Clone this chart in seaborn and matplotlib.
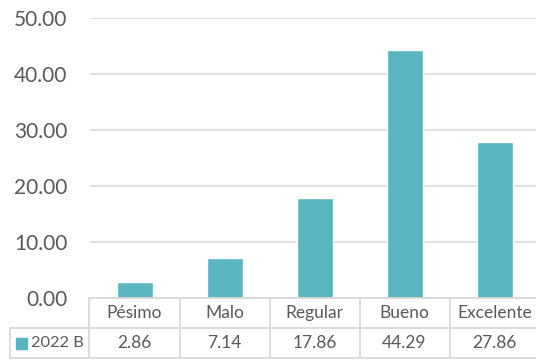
import matplotlib
matplotlib.use("Agg")
import matplotlib.pyplot as plt
import matplotlib.transforms as mtransforms
from matplotlib.patches import Rectangle
import seaborn as sns
import pandas as pd

categories = ["Pésimo", "Malo", "Regular", "Bueno", "Excelente"]
values = [2.86, 7.14, 17.86, 44.29, 27.86]
series_name = "2022 B"
y_ticks = [0, 10, 20, 30, 40, 50]

bar_color = "#59B5BF"
text_color = "#595959"
line_color = "#D9D9D9"

sns.set_style("white")
plt.rcParams["font.family"] = ["Lato", "DejaVu Sans"]

W, H = 536, 360
fig = plt.figure(figsize=(W / 100, H / 100), dpi=100)
ax_left, ax_bottom, ax_w, ax_h = 89.5, 62.0, 450.0, 279.7
ax = fig.add_axes([ax_left / W, ax_bottom / H, ax_w / W, ax_h / H])

df = pd.DataFrame({"categoria": categories, "valor": values})
sns.barplot(data=df, x="categoria", y="valor", color=bar_color,
            width=0.4, saturation=1, ax=ax, zorder=3)

ax.set_xlim(-0.5, len(categories) - 0.5)
ax.set_ylim(0, 50)
ax.set_yticks(y_ticks)
ax.set_yticklabels([f"{v:.2f}" for v in y_ticks])
ax.tick_params(axis="y", length=0, pad=16, labelsize=15, labelcolor=text_color)
ax.set_xticks([])
ax.set_xlabel("")
ax.set_ylabel("")
ax.grid(axis="y", color=line_color, linewidth=1.1, zorder=0)
ax.set_axisbelow(True)
for s in ax.spines.values():
    s.set_visible(False)

# Data table under the plot: x in category units, y in pixels below the axes
px = 1.0 / ax_h
trans = mtransforms.blended_transform_factory(ax.transData, ax.transAxes)
row1_top, row1_bot, row2_bot = 0.0, -30 * px, -60 * px
x_left_data = -0.5 - (ax_left - 10) / (ax_w / len(categories))
x_min, x_max = -0.5, len(categories) - 0.5

lk = dict(color=line_color, linewidth=1.3, clip_on=False, transform=trans, zorder=5)
ax.plot([x_min, x_max], [row1_top, row1_top], **lk)
ax.plot([x_left_data, x_max], [row1_bot, row1_bot], **lk)
ax.plot([x_left_data, x_max], [row2_bot, row2_bot], **lk)
ax.plot([x_left_data, x_left_data], [row1_bot, row2_bot], **lk)
for i in range(len(categories) + 1):
    ax.plot([i - 0.5, i - 0.5], [row1_top, row2_bot], **lk)

for i, (cat, val) in enumerate(zip(categories, values)):
    ax.text(i, (row1_top + row1_bot) / 2, cat, transform=trans, ha="center",
            va="center", fontsize=12.5, color=text_color, clip_on=False)
    ax.text(i, (row1_bot + row2_bot) / 2, f"{val:.2f}", transform=trans,
            ha="center", va="center", fontsize=12.5, color=text_color, clip_on=False)

# Series label with its colour key in the first cell
fig.patches.append(Rectangle((16 / W, (H - 349) / H), 10.5 / W, 11 / H,
                             transform=fig.transFigure, color=bar_color))
fig.text(31 / W, (H - 343) / H, series_name, ha="left", va="center",
         fontsize=11.8, color=text_color)

fig.savefig("out.png", dpi=100)
